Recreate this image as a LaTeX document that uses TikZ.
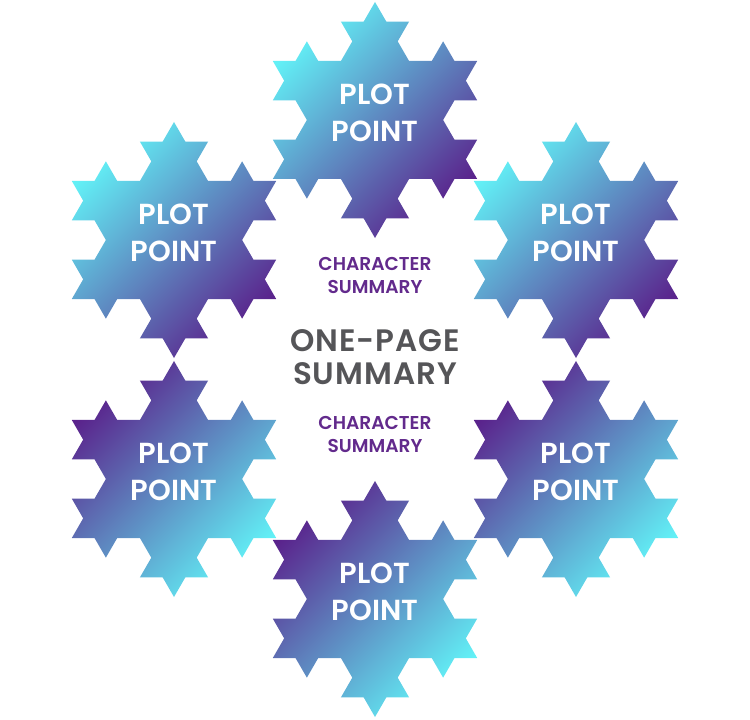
\documentclass[tikz,border=0pt]{standalone}
\usepackage{fontspec}
\setmainfont{Poppins}[UprightFont=* SemiBold]
\definecolor{flakecyan}{RGB}{98,240,246}
\definecolor{flakepurple}{RGB}{90,35,140}
\definecolor{titlegray}{RGB}{85,85,88}
\definecolor{charpurple}{RGB}{98,42,140}
\newcommand{\kochseg}{22.71}
\newcommand{\kochflake}[2]{(#1,#2+118)
  \foreach \kb in {-60,180,60}{
    \foreach \kd in {0,60,-60,0,60,120,0,60,-60,0,-120,-60,0,60,-60,0}{
      -- ++({\kb+(\kd)}:\kochseg)
    }
  } -- cycle}
\tikzset{
  upflake/.style={top color=flakecyan, bottom color=flakepurple, shading angle=45},
  downflake/.style={top color=flakepurple, bottom color=flakecyan, shading angle=45},
  plotlabel/.style={text=white, font=\fontsize{29}{37}\selectfont, align=center, inner sep=0pt},
  titlelabel/.style={text=titlegray, font=\fontsize{31}{32.3}\selectfont\addfontfeatures{LetterSpace=3}, align=center, inner sep=0pt},
  charlabel/.style={text=charpurple, font=\fontsize{18.6}{23}\selectfont, align=center, inner sep=0pt}
}
\begin{document}
\begin{tikzpicture}[x=1pt,y=1pt]
\useasboundingbox (0,0) rectangle (750,720);
% snowflakes
\shade[upflake] \kochflake{375}{600};
\shade[upflake] \kochflake{174}{480};
\shade[upflake] \kochflake{576}{480};
\shade[downflake] \kochflake{174}{241};
\shade[downflake] \kochflake{576}{241};
\shade[downflake] \kochflake{375}{121};
% labels
\node[plotlabel] (p1) at (375,607.5) {PLOT\\POINT};
\node[plotlabel] (p2) at (174,487.5) {PLOT\\POINT};
\node[plotlabel] (p3) at (576,487.5) {PLOT\\POINT};
\node[plotlabel] (p4) at (174,248.5) {PLOT\\POINT};
\node[plotlabel] (p5) at (576,248.5) {PLOT\\POINT};
\node[plotlabel] (p6) at (375,128.5) {PLOT\\POINT};
\node[titlelabel] (title) at (375,363) {ONE-PAGE\\SUMMARY};
\node[charlabel] (c1) at (375,445) {CHARACTER\\SUMMARY};
\node[charlabel] (c2) at (375,285.3) {CHARACTER\\SUMMARY};
\end{tikzpicture}
\end{document}
